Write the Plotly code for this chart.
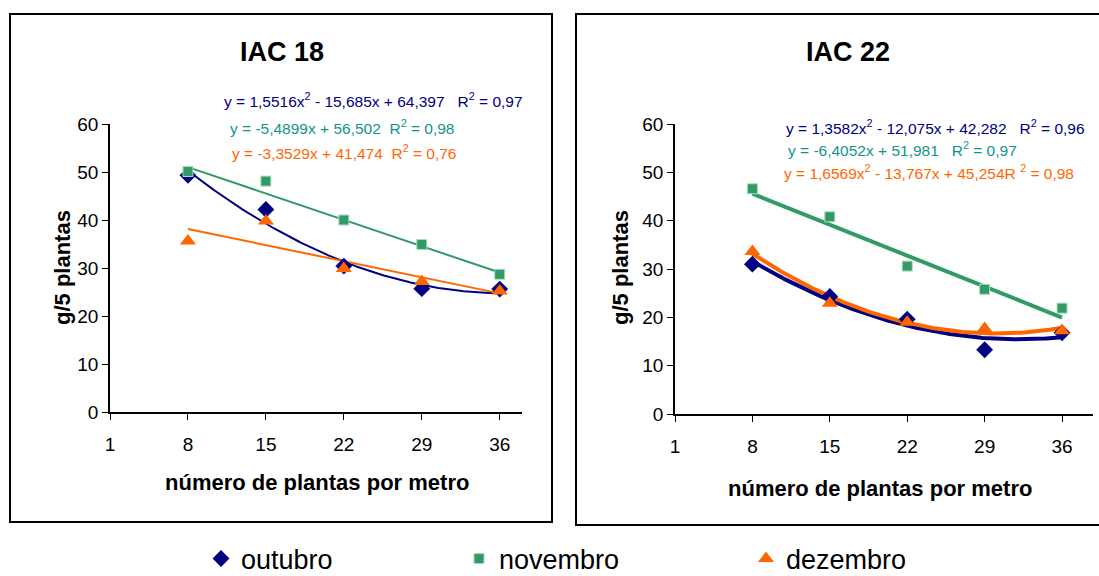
import numpy as np
import plotly.graph_objects as go

# Plant densities (plants per metre) and weights (g / 5 plants)
plantas = [8, 15, 22, 29, 36]
x_ticks = [1, 8, 15, 22, 29, 36]
y_ticks = [0, 10, 20, 30, 40, 50, 60]

iac18_outubro = [49.3, 42.2, 30.4, 25.7, 25.6]
iac18_novembro = [50.1, 48.1, 40.0, 34.9, 28.7]
iac18_dezembro = [35.6, 39.8, 29.9, 27.2, 25.2]

iac22_outubro = [31.0, 24.3, 19.6, 13.3, 16.8]
iac22_novembro = [46.6, 40.8, 30.6, 25.8, 21.9]
iac22_dezembro = [33.6, 22.9, 19.0, 17.7, 17.2]

# Trend line coefficients (highest power first), x = sample index 1..5
iac18_coef = {"outubro": [1.5516, -15.685, 64.397],
              "novembro": [-5.4899, 56.502],
              "dezembro": [-3.3529, 41.474]}
iac22_coef = {"outubro": [1.3582, -12.075, 42.282],
              "novembro": [-6.4052, 51.981],
              "dezembro": [1.6569, -13.767, 45.254]}

iac18_eq = ["y = 1,5516x<sup>2</sup> - 15,685x + 64,397\u00a0\u00a0\u00a0R<sup>2</sup> = 0,97",
            "y = -5,4899x + 56,502\u00a0\u00a0R<sup>2</sup> = 0,98",
            "y = -3,3529x + 41,474\u00a0\u00a0R<sup>2</sup> = 0,76"]
iac22_eq = ["y = 1,3582x<sup>2</sup> - 12,075x + 42,282\u00a0\u00a0\u00a0R<sup>2</sup> = 0,96",
            "y = -6,4052x + 51,981\u00a0\u00a0\u00a0R<sup>2</sup> = 0,97",
            "y = 1,6569x<sup>2</sup> - 13,767x + 45,254R <sup>2</sup> = 0,98"]

NAVY = "#000080"
GREEN = "#339966"
ORANGE = "#FF6600"
TEAL = "#13948A"
FONT = "Liberation Sans, Arial, sans-serif"

W, H = 1099, 576


def px(x):
    return x / W


def py(y):
    return 1 - y / H


fig = go.Figure()

series = [("outubro", NAVY, dict(symbol="diamond", size=13, color=NAVY)),
          ("novembro", GREEN, dict(symbol="square", size=10, color=GREEN,
                                    line=dict(color="#a9dcc0", width=1))),
          ("dezembro", ORANGE, dict(symbol="triangle-up", size=14, color=ORANGE))]

panels = [("x", "y", [iac18_outubro, iac18_novembro, iac18_dezembro], iac18_coef, 2.0, True),
          ("x2", "y2", [iac22_outubro, iac22_novembro, iac22_dezembro], iac22_coef, 4.0, False)]

legend_ids = ["legend", "legend2", "legend3"]

t = np.linspace(1, 5, 200)
t_pos = 8 + 7 * (t - 1)

for xa, ya, values, coefs, lw, show in panels:
    # trend lines
    for (name, color, _), vals in zip(series, values):
        fig.add_trace(go.Scatter(
            x=t_pos, y=np.polyval(coefs[name], t), mode="lines",
            line=dict(color=color, width=lw), xaxis=xa, yaxis=ya,
            showlegend=False, hoverinfo="skip"))
    # observed points
    for i, ((name, color, marker), vals) in enumerate(zip(series, values)):
        fig.add_trace(go.Scatter(
            x=plantas, y=vals, mode="markers", name=name, marker=marker,
            xaxis=xa, yaxis=ya, showlegend=show, legend=legend_ids[i],
            legendgroup=name))

axis_common = dict(showgrid=False, zeroline=False, showline=True, linecolor="black",
                   ticks="outside", tickcolor="black", ticklen=6, tickwidth=1,
                   tickfont=dict(family=FONT, size=19, color="black"))

fig.update_layout(
    width=W, height=H, margin=dict(l=0, r=0, t=0, b=0, autoexpand=False),
    paper_bgcolor="white", plot_bgcolor="white",
    xaxis=dict(domain=[px(110), px(522)], range=[1, 38], tickvals=x_ticks,
               anchor="y", linewidth=2, ticklabelstandoff=8, **axis_common),
    yaxis=dict(domain=[py(412), py(124)], range=[0, 60], tickvals=y_ticks,
               anchor="x", linewidth=1.5, **axis_common),
    xaxis2=dict(domain=[px(675), px(1093)], range=[1, 38.8], tickvals=x_ticks,
                anchor="y2", linewidth=2, ticklabelstandoff=8, **axis_common),
    yaxis2=dict(domain=[py(414), py(124)], range=[0, 60], tickvals=y_ticks,
                anchor="x2", linewidth=1.5, **axis_common),
)

leg_common = dict(orientation="h", yanchor="middle", xanchor="left",
                  bgcolor="rgba(0,0,0,0)", font=dict(family=FONT, size=27, color="black"))
fig.update_layout(
    legend=dict(x=px(201), y=py(559), **leg_common),
    legend2=dict(x=px(459), y=py(559), **leg_common),
    legend3=dict(x=px(746), y=py(559), **leg_common),
)

# panel frames
fig.add_shape(type="rect", xref="paper", yref="paper", x0=px(10), x1=px(552),
              y0=py(522), y1=py(14), line=dict(color="black", width=2))
fig.add_shape(type="rect", xref="paper", yref="paper", x0=px(576), x1=px(1106),
              y0=py(525), y1=py(14), line=dict(color="black", width=2))

ann = []
# panel titles
for txt, cx in [("IAC 18", 282), ("IAC 22", 848)]:
    ann.append(dict(text=f"<b>{txt}</b>", x=px(cx), y=py(52), xref="paper", yref="paper",
                    showarrow=False, xanchor="center", yanchor="middle",
                    font=dict(family=FONT, size=27, color="black")))
# axis titles
for cx, cy in [(317, 482), (880, 488)]:
    ann.append(dict(text="<b>número de plantas por metro</b>", x=px(cx), y=py(cy),
                    xref="paper", yref="paper", showarrow=False, xanchor="center",
                    yanchor="middle", font=dict(family=FONT, size=22, color="black")))
for cx, cy in [(62, 268), (620, 268)]:
    ann.append(dict(text="<b>g/5 plantas</b>", x=px(cx), y=py(cy), xref="paper",
                    yref="paper", showarrow=False, textangle=-90, xanchor="center",
                    yanchor="middle", font=dict(family=FONT, size=22, color="black")))
# regression equations
eq_colors = [NAVY, TEAL, ORANGE]
for eqs, starts in [(iac18_eq, [(222, 100), (228, 127), (230, 152)]),
                    (iac22_eq, [(784, 127), (786, 149), (782, 172)])]:
    for txt, (sx, sy), col in zip(eqs, starts, eq_colors):
        ann.append(dict(text=txt, x=px(sx), y=py(sy), xref="paper", yref="paper",
                        showarrow=False, xanchor="left", yanchor="middle",
                        font=dict(family=FONT, size=15.5, color=col)))
fig.update_layout(annotations=ann)

fig.write_html("out.html")
